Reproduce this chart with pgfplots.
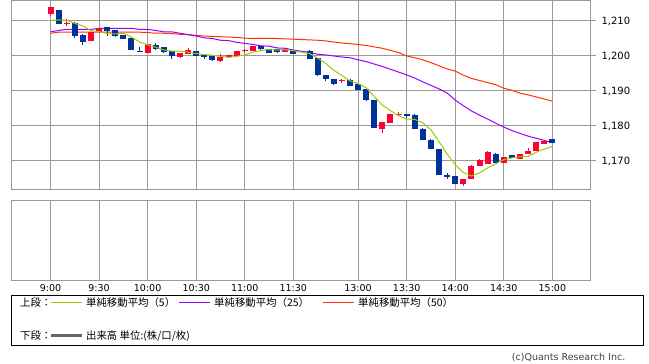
\documentclass[border=0pt]{standalone}
\usepackage{pgfplots}
\usepackage{pgfplotstable}
\pgfplotsset{compat=1.18}
\usepackage{fontspec}
\setmainfont{DejaVu Sans}
\newfontfamily\jp{Noto Sans CJK JP}
\definecolor{cRed}{HTML}{FF0033}
\definecolor{cBlue}{HTML}{003399}
\definecolor{maA}{HTML}{99CC00}
\definecolor{maB}{HTML}{9900FF}
\definecolor{maC}{HTML}{FF3300}
\definecolor{gridc}{HTML}{999999}
\definecolor{volc}{HTML}{666666}

\pgfplotstableread{
i O H L C
0 1212 1214 1211.5 1214
2 1209 1210.6 1208.6 1209.5
5 1204.3 1206.9 1204.3 1206.9
6 1206.9 1208 1206.9 1208
12 1200.9 1203.4 1200.9 1203.4
16 1199.7 1200.9 1199.4 1200.9
17 1200.6 1202.2 1200.6 1201.7
21 1198.6 1200.7 1198.4 1199.8
22 1199.7 1200.3 1199.7 1200.3
23 1200 1201.5 1200 1201.5
24 1201.4 1202 1200.9 1201.4
25 1201.4 1202.9 1201.4 1202.9
29 1201.1 1202 1201.1 1202
36 1192.9 1193.4 1192.3 1192.9
41 1179.1 1181.1 1178 1181.1
42 1180.9 1183.4 1180.9 1183.4
43 1183.1 1184 1182.9 1183.1
51 1163.4 1164.9 1162.9 1164.9
52 1164.9 1168.9 1164.9 1168.6
53 1168.6 1170.6 1168.6 1170.3
54 1169.1 1172.9 1169.1 1172.6
56 1169.4 1171.1 1169.4 1171.1
58 1170.6 1172 1170.6 1172
59 1172 1173.7 1172 1172.9
60 1172.9 1175.4 1172.9 1175.4
61 1174.9 1176 1174.9 1175.7
}\redtab

\pgfplotstableread{
i O H L C
1 1213 1213.2 1209 1209.2
3 1209.5 1209.8 1205.2 1205.8
4 1206 1206.4 1203.2 1204
7 1208.3 1208.3 1205.7 1207.1
8 1207.4 1207.4 1205.4 1205.7
9 1206 1206 1204.9 1204.9
10 1205.1 1205.1 1201.7 1201.7
11 1201.2 1202.6 1201.2 1201.2
13 1203.1 1203.7 1201.7 1202
14 1202.6 1202.6 1200.9 1201.1
15 1201.4 1201.4 1199.1 1200
18 1201.4 1201.4 1200 1200
19 1200.3 1200.3 1199.1 1199.7
20 1200 1200 1198.7 1198.9
26 1202.9 1202.9 1201.5 1202
27 1202 1202 1200.9 1200.9
28 1201.9 1201.9 1200.9 1201.1
30 1201.4 1201.4 1200.6 1200.6
32 1201.4 1201.7 1199.1 1199.1
33 1199.4 1199.4 1194.3 1194.5
34 1194.6 1194.6 1192.9 1193.4
35 1193.4 1193.4 1191.7 1192
37 1193.1 1193.4 1191.4 1191.4
38 1192 1192 1190.3 1190.3
39 1190.6 1190.6 1187.1 1187.4
40 1187.4 1187.4 1179.4 1179.4
44 1183.4 1183.4 1182.3 1182.9
45 1183.1 1183.4 1179.1 1179.1
46 1179.1 1179.4 1176 1176
47 1176 1176.3 1173.4 1173.4
48 1173.4 1173.4 1166 1166
49 1166 1166.6 1164.9 1165.4
50 1165.7 1165.7 1163.4 1163.4
55 1172 1172.3 1169.4 1169.4
57 1171.7 1171.7 1170.9 1170.9
62 1176.3 1176.3 1175.1 1175.1
}\bluetab

\pgfplotstableread{
i m5 m25 m50
0 1210.2 1206.9 1206.5
1 1210.3 1207.3 1206.8
2 1210.2 1207.6 1206.8
3 1209.3 1207.6 1206.8
4 1208.6 1207.6 1206.8
5 1207.2 1207.6 1206.8
6 1207.0 1207.9 1206.8
7 1206.4 1207.9 1206.8
8 1206.3 1207.9 1206.8
9 1206.5 1207.9 1206.8
10 1205.4 1207.9 1206.8
11 1204.0 1207.6 1206.8
12 1203.2 1207.6 1206.7
13 1202.5 1207.3 1206.5
14 1201.7 1206.9 1206.5
15 1201.4 1206.9 1206.4
16 1201.4 1206.5 1206.2
17 1201.1 1206.1 1206.1
18 1200.7 1205.7 1205.9
19 1200.4 1205.2 1205.7
20 1200.2 1205.0 1205.6
21 1199.9 1204.5 1205.5
22 1199.6 1204.4 1205.4
23 1199.9 1203.9 1205.3
24 1200.3 1203.6 1205.1
25 1201.1 1203.3 1205.0
26 1201.6 1202.9 1205.0
27 1201.8 1202.8 1205.0
28 1201.7 1202.3 1205.0
29 1201.8 1202.2 1204.9
30 1201.5 1201.7 1204.8
32 1200.7 1201.0 1204.6
33 1199.4 1200.5 1204.5
34 1197.9 1200.3 1204.3
35 1195.9 1200.0 1204.0
36 1194.4 1199.7 1203.7
37 1192.9 1199.5 1203.5
38 1192.1 1198.9 1203.3
39 1190.9 1198.4 1203.0
40 1188.4 1197.7 1202.6
41 1186.0 1197.0 1202.2
42 1184.4 1196.2 1201.6
43 1182.9 1195.4 1201.0
44 1182.0 1194.6 1200.0
45 1181.9 1193.7 1199.5
46 1180.9 1192.6 1198.9
47 1178.9 1191.6 1198.1
48 1175.5 1190.6 1197.2
49 1172.0 1189.4 1196.3
50 1168.9 1187.4 1195.7
51 1166.7 1185.8 1194.5
52 1165.7 1184.3 1193.6
53 1166.6 1183.1 1193.0
54 1168.0 1182.0 1192.4
55 1169.2 1180.8 1191.8
56 1170.4 1179.7 1190.8
57 1170.9 1178.7 1190.2
58 1171.2 1177.9 1189.4
59 1171.3 1177.1 1188.9
60 1172.5 1176.5 1188.3
61 1173.4 1175.9 1187.7
62 1174.2 1175.2 1187.1
}\matab

\begin{document}
\begin{tikzpicture}[x=1bp,y=1bp]
\useasboundingbox (0bp,0bp) rectangle (649bp,364bp);
\pgfplotsset{
  common/.style={
    scale only axis, width=579.5bp,
    xmin=-4.88, xmax=66.71,
    xtick={0,6,12,18,24,30,38,44,50,56,62},
    axis line style={gridc, line width=1bp},
    grid style={gridc, line width=1bp},
    xtick style={draw=none},
    clip=true,
  },
  candle/.style 2 args={draw=none, mark=none,
    error bars/.cd, y dir=plus, y explicit, error mark=none,
    error bar style={line width=#1, draw=#2}},
}
% main price panel
\begin{axis}[common,
  at={(11bp,174bp)}, anchor=south west,
  height=189.5bp,
  ymin=1161.714, ymax=1215.857,
  xticklabels={},
  ytick={1170,1180,1190,1200,1210},
  grid=major,
  yticklabel pos=right, ytick pos=right,
  tick align=outside, major tick length=5bp,
  ytick style={gridc, line width=1bp},
  yticklabel style={font=\fontsize{10bp}{12bp}\selectfont, text=black, xshift=2.5bp},
  /pgf/number format/.cd, 1000 sep={,}, assume math mode=true,
]
\addplot[maC, line width=1bp, mark=none] table[x=i, y=m50] {\matab};
\addplot[maB, line width=1bp, mark=none] table[x=i, y=m25] {\matab};
\addplot[candle={1bp}{cRed}]
  table[x=i, y=L, y error plus expr=\thisrow{H}-\thisrow{L}] {\redtab};
\addplot[candle={1bp}{cBlue}]
  table[x=i, y=L, y error plus expr=\thisrow{H}-\thisrow{L}] {\bluetab};
\addplot[candle={6bp}{cRed}]
  table[x=i, y=O, y error plus expr={max(\thisrow{C}-\thisrow{O},0.3)}] {\redtab};
\addplot[candle={6bp}{cBlue}]
  table[x=i, y=C, y error plus expr={max(\thisrow{O}-\thisrow{C},0.3)}] {\bluetab};
\addplot[maA, line width=1bp, mark=none] table[x=i, y=m5] {\matab};
\end{axis}
% lower (volume) panel
\begin{axis}[common,
  at={(11bp,83.5bp)}, anchor=south west,
  height=79.5bp,
  ymin=0, ymax=1, ytick=\empty,
  xmajorgrids,
  xticklabels={9:00,9:30,10:00,10:30,11:00,11:30,13:00,13:30,14:00,14:30,15:00},
  xticklabel style={font=\fontsize{9.5bp}{11bp}\selectfont, text=black},
]
\addplot[draw=none, mark=none] coordinates {(0,0)};
\end{axis}
% legend box
\draw[black, line width=1bp] (11bp,18bp) rectangle (643bp,68.5bp);
\begin{scope}[every node/.style={anchor=west, inner sep=0pt, font=\jp\fontsize{10.4bp}{12bp}\selectfont}]
\node at (20bp,61bp) {上段：};
\draw[maA, line width=1bp] (51bp,61bp) -- (81.5bp,61bp);
\node at (86bp,61bp) {単純移動平均（5）};
\draw[maB, line width=1bp] (179bp,61bp) -- (210bp,61bp);
\node at (214bp,61bp) {単純移動平均（25）};
\draw[maC, line width=1bp] (323bp,61bp) -- (354bp,61bp);
\node at (358bp,61bp) {単純移動平均（50）};
\node at (20bp,28bp) {下段：};
\draw[volc, line width=3bp] (51bp,28bp) -- (81.5bp,28bp);
\node at (86bp,28bp) {出来高 単位:(株/口/枚)};
\end{scope}
\node[anchor=east, inner sep=0pt, font=\fontsize{9.5bp}{11bp}\selectfont, text=black!75] at (625.5bp,6.3bp) {(c)Quants Research Inc.};
\end{tikzpicture}
\end{document}
